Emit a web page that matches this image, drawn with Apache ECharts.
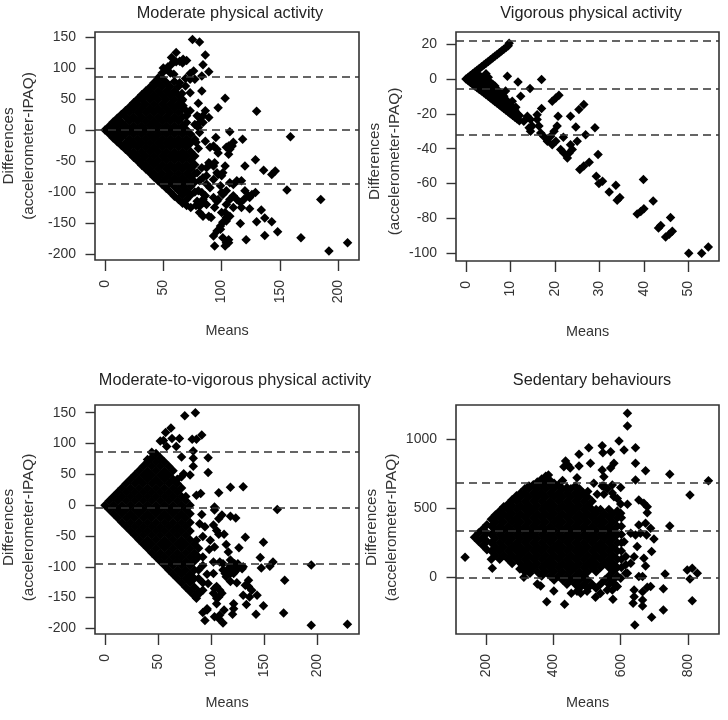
<!DOCTYPE html>
<html><head><meta charset="utf-8">
<style>html,body{margin:0;padding:0;background:#fff}#c{width:728px;height:720px}</style>
<script src="https://cdn.jsdelivr.net/npm/echarts@6/dist/echarts.min.js"></script>
</head><body><div id="c"></div>
<script>
// Each row: [mean, difference, difference, ...]
const moderateDense = [
[0,0],[3.5,-6,6],[7,-13,0,13],[10.5,-19,-7,7,19],[14,-25,-13,0,13,25],
[17.5,-31,-21,-7,7,21,31],[21,-37,-28,-14,0,14,28,37],[24.5,-44,-35,-21,-7,7,21,35,44],
[28,-50,-42,-28,-14,0,14,28,42,50],[31.5,-57,-49,-35,-21,-7,7,21,35,49,57],
[35,-63,-56,-42,-28,-14,0,14,28,42,56,63],[38.5,-69,-63,-49,-35,-21,-7,7,21,35,49,63,69],
[42,-76,-70,-56,-42,-28,-14,0,14,28,42,56,70,76],[45.5,-82,-77,-63,-49,-35,-21,-7,7,21,35,49,63,77,84],
[49,-88,-84,-70,-56,-42,-28,-14,0,14,28,42,56,70,84,92],[52.5,-94,-91,-77,-63,-49,-35,-21,-7,7,21,35,49,63,77,98],
[56,-100,-84,-70,-56,-42,-28,-14,0,14,28,42,56,70,92,104],[59.5,-107,-91,-77,-63,-49,-35,-21,-7,7,21,35,49,63,78],
[63,-112,-98,-84,-70,-56,-42,-28,-14,0,14,28,42,56,70],[66.5,-118,-105,-91,-77,-63,-49,-35,-21,-7,7,21,35,49,108],
[70,-122,-112,-98,-84,-70,-56,-42,-28,-14,0,12,30,112],[73.5,-125,-105,-91,-77,-63,-49,-35,-21,-7],
[77,-70,-56,-42,-84,-100]
];
const moderateSparse = [
[75,146],[81,142],[61,125],[57,117],[86,121],[67,114],[61,110],[84,105],[89,94],[76,95],[73,91],[83,87],[77,82],[69,83],
[83,63],[73,60],[66,59],[80,43],[103,51],[97,36],[130,30],[86,31],[73,31],[89,20],[84,12],[80,4],[107,-3],[159,-11],[95,-12],
[118,-15],[110,-20],[106,-26],[93,-26],[97,-37],[106,-39],[86,-18],[129,-48],[120,-58],[103,-58],[90,-55],[136,-65],[146,-66],
[143,-72],[97,-72],[83,-61],[117,-82],[107,-85],[84,-77],[90,-93],[99,-90],[156,-97],[120,-98],[185,-112],[80,-98],[101,-104],
[87,-120],[96,-115],[129,-101],[124,-109],[116,-117],[110,-125],[117,-125],[94,-125],[124,-127],[134,-129],[81,-133],[89,-139],
[103,-133],[137,-142],[143,-148],[130,-148],[116,-151],[148,-164],[137,-170],[168,-174],[121,-177],[93,-171],[99,-160],[104,-147],
[107,-139],[106,-177],[101,-174],[94,-187],[103,-187],[208,-182],[192,-195],[78,-20],[80,-30],[84,-112],[78,-122],[93,-80],[87,-87],
[79,-69],[81,-82],[87,-74],[93,-58],[87,-61],[83,-101],[86,-106],[93,-109],[97,-112],[100,-101],[104,-98],[110,-88],[113,-82],[107,-112],
[113,-112],[119,-112],[123,-106],[126,-104],[110,-106],[104,-120],[100,-133],[104,-141],[101,-149],[99,-155],[96,-163],[104,-182],[106,-182],
[81,-123],[79,-115],[84,-117],[91,-141],[84,-139],[96,-31],[109,-26],[107,-31],[104,-28],[90,-28],[89,-53],[94,-53],[96,-69],[100,-74],[101,-69],
[81,-4],[77,-15],[79,23],[81,20],[84,23],[77,9],[81,12],[70,23],[67,39],[66,47],[69,71],[64,76],[73,82],[59,90],[50,100],[54,102],[59,110],[64,111]
];
const moderateLines = [85.5, 0, -86];
const vigorousDense = [
[0,0],[0.5,1,-1,0],[1,2,0,-2],[1.5,3,1,-1,-3],[2,4,2,0,-2,-4],[2.5,5,2,-1,-3,-5],[3,6,2,-1,-4,-6],[3.5,7,1,-2,-5,-7],
[4,8,1,-2,-5,-8],[4.5,9,3,0,-3,-6,-9],[5,10,1,-2,-5,-8,-10],[5.5,11,-2,-6,-9,-11],[6,12,-3,-7,-10,-12],[6.5,13,-4,-8,-11,-13],
[7,14,-6,-9,-12,-14],[7.5,15,-8,-11,-13,-15],[8,16,-9,-12,-14,-16],[8.5,17,-10,-13,-15,-17],[9,18,-12,-15,-18],
[9.5,19,-14,-17,-19],[9.7,20.5],[10,-15,-18,-20],[10.5,-17,-19,-21],[11,-18,-20,-22],[11.5,-20,-23],[12,-21,-24]
];
const vigorousSparse = [
[9.3,1.5],[11.7,-1.7],[17,-0.4],[14.4,-5.5],[8.9,-7],[20.2,-11],[20.9,-9.4],[19.4,-12.8],[26.5,-14.7],[25.4,-17.6],[17,-17],[16,-20.5],
[12.3,-10],[10.4,-12.8],[11.2,-16.3],[20.7,-21.4],[23.5,-21.4],[24.7,-27.5],[29,-28],[26.9,-32],[25,-35.8],[21.9,-33.5],[29.7,-43.4],
[27.7,-47.8],[26.5,-50],[25.6,-52],[29.3,-55.8],[30.7,-58.7],[29.9,-60],[33.7,-61],[32.2,-64.8],[34.6,-68],[34,-69.6],[39.9,-57.7],
[42.1,-70],[40,-74.4],[39.3,-76],[38.5,-77.4],[46,-79.4],[43.8,-84],[43.3,-85.5],[46.4,-87.4],[45.7,-89],[44.9,-90.6],[50.1,-100],
[53,-100],[54.5,-96.4],[13,-24.3],[13.8,-21.4],[14.5,-23.3],[14.2,-28],[14.9,-27],[16,-23.3],[16.4,-27],[16.8,-31],[14.5,-30],[17.5,-33],
[18.3,-35.8],[19,-33],[19.8,-30],[20.5,-27],[19.4,-37.7],[20.2,-35.8],[21.3,-40.5],[22,-42.5],[22.8,-45.3],[23.5,-37.7],[23.9,-40.5],[23.2,-42.5]
];
const vigorousLines = [22, -5.6, -31.9];
const mvpaDense = [
[0,0],[4,-7,7],[8,-14,0,14],[12,-21,-7,7,21],[16,-28,-14,0,14,28],[20,-35,-21,-7,7,21,35],
[24,-42,-28,-14,0,14,28,42],[28,-49,-35,-21,-7,7,21,35,49],[32,-56,-42,-28,-14,0,14,28,42,56],
[36,-63,-49,-35,-21,-7,7,21,35,49,63],[40,-70,-56,-42,-28,-14,0,14,28,42,56,70,74],
[44,-77,-63,-49,-35,-21,-7,7,21,35,49,63,77,86],[48,-84,-70,-56,-42,-28,-14,0,14,28,42,56,70,84],
[52,-91,-77,-63,-49,-35,-21,-7,7,21,35,49,63,77],[56,-98,-84,-70,-56,-42,-28,-14,0,14,28,42,56,70],
[60,-105,-91,-77,-63,-49,-35,-21,-7,7,21,35,49,63],[64,-112,-98,-84,-70,-56,-42,-28,-14,0,14,28,42,56],
[68,-119,-105,-91,-77,-63,-49,-35,-21,-7,7,21,35,42],[72,-126,-112,-98,-84,-70,-56,-42,-28,-14,0,14,28],
[76,-133,-119,-105,-91,-77,-63,-49,-35,-21,-7,7,14],[80,-140,-126,-112,-98,-84,-70,-56,-42,-28,-14,0],
[84,-147,-133,-119,-105,-91,-77,-63],[88,-140,-119,-105,-84,-70],[92,-126,-98,-84],[96,-112]
];
const mvpaSparse = [
[75,145],[85,150],[62,125],[57,118],[91,114],[63,108],[70,108],[52,104],[55,105],[82,107],[86,107],[58,95],[67,95],[83,88],[97,77],[83,76],
[72,78],[83,63],[97,53],[74,51],[80,49],[72,46],[118,29],[130,30],[107,20],[90,19],[86,16],[103,-3],[103,-8],[162,-7],[118,-18],[123,-21],
[110,-16],[107,-22],[102,-32],[91,-15],[89,-30],[94,-35],[105,-41],[112,-47],[107,-47],[132,-52],[149,-60],[92,-51],[86,-57],[99,-57],[103,-68],
[98,-72],[114,-64],[116,-76],[126,-69],[146,-85],[147,-102],[158,-92],[155,-99],[194,-97],[169,-122],[118,-89],[102,-92],[111,-95],[121,-100],
[125,-95],[129,-103],[122,-108],[116,-103],[113,-111],[118,-111],[108,-92],[102,-111],[118,-124],[124,-126],[135,-122],[132,-130],[135,-132],
[130,-146],[136,-149],[138,-138],[143,-146],[133,-161],[149,-163],[142,-177],[168,-175],[121,-160],[121,-168],[120,-177],[112,-170],[105,-132],
[108,-138],[102,-143],[107,-149],[105,-160],[96,-170],[92,-174],[94,-187],[103,-181],[107,-184],[111,-191],[108,-178],[194,-195],[228,-193],
[86,-151],[97,-127],[92,-138],[89,-143],[118,-97],[122,-95],[125,-103],[121,-111],[114,-116],[130,-100],[111,-105],[103,-135],[110,-143],[105,-151],[96,-168]
];
const mvpaLines = [86, -3.8, -95.7];
const sedentaryDense = [
[165,290],[177,260,320],[190,230,290,350],[202,200,260,320,380],[215,130,190,250,310,370,420],[227,160,220,280,340,400,450],
[240,130,190,250,310,370,430,480],[252,160,220,280,340,400,460,510],[265,130,190,250,310,370,430,490,530],
[277,100,160,220,280,340,400,460,520,560],[290,130,190,250,310,370,430,490,550,590],[302,100,160,220,280,340,400,460,520,580,610],
[315,70,130,190,250,310,370,430,490,550,610,640],[327,40,100,160,220,280,340,400,460,520,580,640,660],
[340,70,130,190,250,310,370,430,490,550,610,670],[352,40,100,160,220,280,340,400,460,520,580,640,690],
[365,10,70,130,190,250,310,370,430,490,550,610,670,710],[377,40,100,160,220,280,340,400,460,520,580,640,700,730],
[390,10,70,130,190,250,310,370,430,490,550,610,670,700],[402,-20,40,100,160,220,280,340,400,460,520,580,640,680],
[415,10,70,130,190,250,310,370,430,490,550,610,670],[427,-20,40,100,160,220,280,340,400,460,520,580,640,700],
[440,-50,10,70,130,190,250,310,370,430,490,550,610,650],[452,-20,40,100,160,220,280,340,400,460,520,580,640],
[465,-50,10,70,130,190,250,310,370,430,490,550,610,660],[477,-80,-20,40,100,160,220,280,340,400,460,520,580,640],
[490,-50,10,70,130,190,250,310,370,430,490,550,610],[502,-80,-20,40,100,160,220,280,340,400,460,520,580,620],
[515,-50,70,130,190,250,310,370,430,490,550],[527,-80,40,100,160,220,280,340,400,460,490],
[540,-50,70,130,190,250,310,370,430,490],[552,-20,100,160,220,280,340,400,460],
[565,-50,10,70,130,190,250,310,370,430,490],[577,-20,40,100,160,220,280,340,400,460],
[590,10,70,130,190,250,310,370,430],[602,70,130,190,250,310,370,430],[615,30,90,150]
];
const sedentarySparse = [
[137,145],[218,65],[620,1186],[620,1094],[595,986],[610,920],[644,937],[545,952],[570,908],[547,901],[505,937],[476,889],[510,824],[644,824],
[674,771],[436,841],[443,812],[431,800],[450,790],[476,805],[570,790],[580,824],[545,776],[746,745],[861,699],[644,704],[806,595],[600,650],
[620,528],[654,559],[669,535],[679,511],[679,467],[746,371],[654,378],[674,390],[689,354],[659,318],[677,306],[699,277],[692,186],[630,318],
[644,306],[610,258],[649,222],[669,137],[674,82],[732,24],[798,53],[813,65],[828,29],[806,-12],[813,-169],[727,-82],[727,-236],[692,-289],
[642,-345],[640,-92],[640,-140],[637,-188],[665,-164],[665,-207],[665,-104],[679,-72],[689,-67],[665,5],[654,5],[380,-176],[433,-195],[401,-99],
[352,-48],[362,-63],[312,0],[453,-116],[481,-116],[577,-159],[525,-145],[540,-116],[560,-92],[580,-43],[600,-7],[575,-92],[590,-67],[620,29],
[630,101],[640,149],[550,728],[575,667],[580,583],[550,660],[600,463],[590,480],[385,740],[470,720],[520,680],[560,640],[500,-100],[470,-100],
[300,60],[315,40],[330,30],[550,600],[575,610],[545,660],[530,600],[590,570],[600,530]
];
const sedentaryLines = [687, 337, 0];

const titles = ['Moderate physical activity','Vigorous physical activity','Moderate-to-vigorous physical activity','Sedentary behaviours'];
const yLabel = 'Differences\n(accelerometer-IPAQ)';
const xLabel = 'Means';
const xTicks = [[0,50,100,150,200],[0,10,20,30,40,50],[0,50,100,150,200],[200,400,600,800]];
const yTicks = [[-200,-150,-100,-50,0,50,100,150],[-100,-80,-60,-40,-20,0,20],[-200,-150,-100,-50,0,50,100,150],[0,500,1000]];
const xRanges = [[-8.6,217.8],[-2.25,56.9],[-9.4,238.9],[110,892.5]];
const yRanges = [[-209.7,158],[-104.4,26.9],[-209,162.5],[-410,1246]];
const boxes = [[95,32,264,228],[456,32,263,229],[95,405,264,229],[456,405,263,229]];
const titleCentres = [225,586,230,587];
const titleTops = [1,1,368,368];
const nameGaps = [[64,56.5],[64,48],[62,56],[62,49.5]];
const namePads = [0,30,16,16];
const denseSets = [moderateDense,vigorousDense,mvpaDense,sedentaryDense];
const sparseSets = [moderateSparse,vigorousSparse,mvpaSparse,sedentarySparse];
const lineSets = [moderateLines,vigorousLines,mvpaLines,sedentaryLines];

const ink = '#333';
const font = 'Liberation Sans';
const flat = rows => rows.flatMap(r => r.slice(1).map(d => [r[0], d]));
const chart = echarts.init(document.getElementById('c'), null, {renderer:'canvas'});
chart.setOption({
  animation:false,
  backgroundColor:'#fff',
  title: titles.map((t,i)=>({text:t,left:titleCentres[i],top:titleTops[i],textAlign:'center',
    textStyle:{fontFamily:font,fontSize:16.3,fontWeight:'normal',color:'#222'}})),
  grid: boxes.map(b=>({left:b[0],top:b[1],width:b[2],height:b[3],show:true,borderColor:ink,borderWidth:1.6,backgroundColor:'transparent',containLabel:false,outerBoundsMode:'none'})),
  xAxis: boxes.map((b,i)=>({type:'value',gridIndex:i,min:xRanges[i][0],max:xRanges[i][1],name:xLabel,nameLocation:'middle',nameGap:nameGaps[i][0],
    nameTextStyle:{fontFamily:font,fontSize:14.4,color:ink},
    splitLine:{show:false},axisLine:{show:false,onZero:false},
    axisTick:{show:true,length:11,lineStyle:{color:ink,width:1.4},customValues:xTicks[i]},
    axisLabel:{rotate:90,margin:20,fontFamily:font,fontSize:14,color:ink,customValues:xTicks[i],formatter:v=>String(v)}})),
  yAxis: boxes.map((b,i)=>({type:'value',gridIndex:i,min:yRanges[i][0],max:yRanges[i][1],name:yLabel,nameLocation:'middle',
    nameGap:nameGaps[i][1],nameRotate:90,nameTextStyle:{fontFamily:font,fontSize:15.3,color:ink,lineHeight:20,padding:[0,namePads[i],0,0]},
    splitLine:{show:false},axisLine:{show:false,onZero:false},
    axisTick:{show:true,length:9.5,lineStyle:{color:ink,width:1.4},customValues:yTicks[i]},
    axisLabel:{margin:19,fontFamily:font,fontSize:14,color:ink,customValues:yTicks[i],formatter:v=>String(v)}})),
  series: boxes.map((b,i)=>({type:'scatter',xAxisIndex:i,yAxisIndex:i,symbol:'diamond',symbolSize:9.5,silent:true,
    itemStyle:{color:'#000',opacity:1},
    data:flat(denseSets[i]).concat(sparseSets[i]),
    markLine:{silent:true,symbol:'none',label:{show:false},animation:false,
      lineStyle:{color:ink,type:[8,5],width:1.5,opacity:1},
      data:lineSets[i].map(v=>({yAxis:v}))}}))
});
</script></body></html>
